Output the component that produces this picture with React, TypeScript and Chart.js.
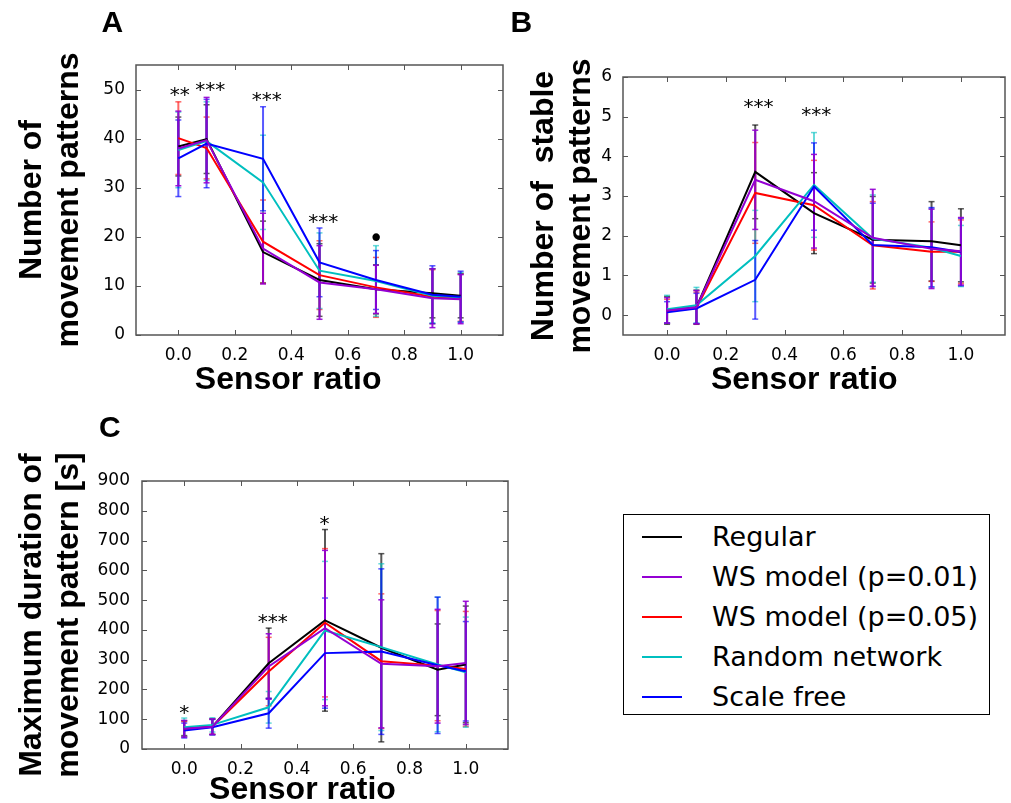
import React, { useEffect, useRef } from 'react';
import { Chart, registerables } from 'chart.js';

Chart.register(...registerables);

// ---------- data ----------
const sensorRatios = [0.0, 0.1, 0.3, 0.5, 0.7, 0.9, 1.0];
const xTicks = [0, 0.2, 0.4, 0.6, 0.8, 1.0];

const seriesNames = ['Regular', 'WS model (p=0.01)', 'WS model (p=0.05)', 'Random network', 'Scale free'];
const seriesColors = ['#000000', '#9400d3', '#ff0000', '#00bfbf', '#0000ff'];
const errorAlpha = [0.65, 0.9, 0.6, 0.6, 0.65];

// Panel A: number of movement patterns (mean, sd)
const aRegular = [38.4, 39.9, 16.9, 11.2, 9.3, 8.5, 8.0];
const aRegularSd = [6.0, 7.0, 6.3, 7.4, 5.0, 5.0, 4.5];
const aWs01 = [38.0, 39.7, 17.6, 10.7, 9.3, 7.5, 7.3];
const aWs01Sd = [7.6, 8.7, 7.2, 7.5, 4.9, 6.0, 5.0];
const aWs05 = [40.1, 38.1, 19.0, 12.2, 9.7, 7.8, 7.6];
const aWs05Sd = [7.4, 6.3, 8.5, 7.0, 6.1, 5.5, 4.8];
const aRandom = [37.7, 39.5, 31.1, 13.1, 11.0, 8.0, 7.7];
const aRandomSd = [7.7, 8.0, 9.6, 7.7, 7.2, 5.5, 5.0];
const aScaleFree = [36.0, 39.0, 35.9, 14.8, 11.2, 8.2, 7.8];
const aScaleFreeSd = [7.8, 9.0, 10.6, 7.0, 6.0, 5.9, 5.2];
const aStarX = [0.005, 0.113, 0.313, 0.513, 0.70];
const aStarY = [49.6, 50.6, 48.6, 23.8, 19.9];
const aStarText = ['**', '***', '***', '***', '•'];
const aYTicks = [0, 10, 20, 30, 40, 50];

// Panel B: number of stable movement patterns
const bRegular = [0.12, 0.20, 3.61, 2.57, 1.90, 1.86, 1.76];
const bRegularSd = [0.35, 0.43, 1.18, 1.02, 1.09, 1.00, 0.92];
const bWs01 = [0.12, 0.20, 3.41, 2.87, 1.95, 1.67, 1.61];
const bWs01Sd = [0.32, 0.42, 1.25, 1.18, 1.22, 1.00, 0.85];
const bWs05 = [0.10, 0.18, 3.08, 2.77, 1.76, 1.60, 1.60];
const bWs05Sd = [0.30, 0.40, 1.27, 1.13, 1.10, 0.75, 0.80];
const bRandom = [0.15, 0.25, 1.49, 3.28, 1.93, 1.70, 1.49];
const bRandomSd = [0.35, 0.45, 1.15, 1.32, 1.10, 0.99, 0.77];
const bScaleFree = [0.07, 0.17, 0.89, 3.24, 1.77, 1.71, 1.59];
const bScaleFreeSd = [0.27, 0.38, 0.99, 1.10, 1.05, 1.00, 0.85];
const bStarX = [0.311, 0.508];
const bStarY = [5.33, 5.12];
const bStarText = ['***', '***'];
const bYTicks = [0, 1, 2, 3, 4, 5, 6];

// Panel C: maximum duration of movement pattern [s]
const cRegular = [70, 75, 288, 432, 340, 266, 284];
const cRegularSd = [25, 26, 118, 305, 316, 154, 196];
const cWs01 = [68, 75, 277, 406, 286, 278, 289];
const cWs01Sd = [28, 26, 110, 261, 215, 191, 207];
const cWs05 = [67, 75, 260, 424, 295, 280, 269];
const cWs05Sd = [25, 26, 115, 249, 226, 185, 193];
const cRandom = [73, 81, 140, 398, 342, 284, 258];
const cRandomSd = [31, 24, 53, 232, 280, 226, 185];
const cScaleFree = [62, 73, 120, 322, 327, 281, 261];
const cScaleFreeSd = [25, 26, 50, 185, 278, 229, 167];
const cStarX = [0.0, 0.314, 0.498];
const cStarY = [134, 437, 766];
const cStarText = ['*', '***', '*'];
const cYTicks = [0, 100, 200, 300, 400, 500, 600, 700, 800, 900];

// ---------- helpers ----------
const lineOrder = [4, 0, 3, 2, 1];

function rgba(hex: string, a: number) {
  const n = parseInt(hex.slice(1), 16);
  return `rgba(${(n >> 16) & 255},${(n >> 8) & 255},${n & 255},${a})`;
}

function inkText(ctx: CanvasRenderingContext2D, text: string, x: number, y: number) {
  ctx.textAlign = 'center';
  ctx.textBaseline = 'alphabetic';
  const m = ctx.measureText(text);
  const dx = (m.actualBoundingBoxRight - m.actualBoundingBoxLeft) / 2;
  const dy = (m.actualBoundingBoxAscent - m.actualBoundingBoxDescent) / 2;
  ctx.fillText(text, x - dx, y + dy);
}

type PanelCfg = {
  means: number[][];
  sds: number[][];
  yMin: number;
  yMax: number;
  yTicks: number[];
  yTitle: string[];
  yTitlePad: number;
  yAxisWidth: number;
  yTickPad: number;
  padTop: number;
  padRight: number;
  xAxisHeight: number;
  starX: number[];
  starY: number[];
  starText: string[];
  xTitleAt: number;
  xTitleY: number;
  letter: string;
  letterX: number;
  letterY: number;
};

function makeConfig(p: PanelCfg): any {
  const lineSets = p.means.map((m, i) => ({
    label: seriesNames[i],
    data: sensorRatios.map((x, j) => ({ x, y: m[j] })),
    borderColor: seriesColors[i],
    backgroundColor: seriesColors[i],
    borderWidth: 2,
    pointRadius: 0,
    tension: 0,
    fill: false,
    order: lineOrder[i],
  }));
  const errSets = p.means.map((m, i) => ({
    label: seriesNames[i] + ' sd',
    data: sensorRatios.flatMap((x, j) => [
      { x, y: m[j] - p.sds[i][j] },
      { x, y: m[j] + p.sds[i][j] },
      { x, y: null },
    ]),
    borderColor: rgba(seriesColors[i], errorAlpha[i]),
    backgroundColor: rgba(seriesColors[i], errorAlpha[i]),
    borderWidth: 2,
    pointStyle: 'line',
    pointRadius: 3,
    pointBorderWidth: 1.5,
    pointBorderColor: rgba(seriesColors[i], errorAlpha[i]),
    spanGaps: false,
    fill: false,
    order: lineOrder[i] + 5,
  }));

  const tickFont = { family: 'DejaVu Sans', size: 17 };

  const plugin = {
    id: 'mpl',
    afterDraw(chart: any) {
      const ctx: CanvasRenderingContext2D = chart.ctx;
      const { left, right, top, bottom } = chart.chartArea;
      const xs = chart.scales.x;
      const ys = chart.scales.y;
      ctx.save();
      ctx.strokeStyle = '#555555';
      ctx.lineWidth = 1.5;
      ctx.strokeRect(left, top, right - left, bottom - top);
      ctx.lineWidth = 1;
      const L = 5;
      ctx.beginPath();
      xs.ticks.forEach((t: any) => {
        const px = Math.round(xs.getPixelForValue(t.value)) + 0.5;
        ctx.moveTo(px, bottom);
        ctx.lineTo(px, bottom - L);
        ctx.moveTo(px, top);
        ctx.lineTo(px, top + L);
      });
      ys.ticks.forEach((t: any) => {
        const py = Math.round(ys.getPixelForValue(t.value)) + 0.5;
        ctx.moveTo(left, py);
        ctx.lineTo(left + L, py);
        ctx.moveTo(right, py);
        ctx.lineTo(right - L, py);
      });
      ctx.stroke();

      ctx.fillStyle = '#000';
      p.starX.forEach((sx, i) => {
        const t = p.starText[i];
        ctx.font = t === '•' ? '26px "DejaVu Sans"' : '20px "DejaVu Sans"';
        inkText(ctx, t, xs.getPixelForValue(sx), ys.getPixelForValue(p.starY[i]));
      });

      ctx.font = 'bold 32px "Liberation Sans"';
      inkText(ctx, 'Sensor ratio', xs.getPixelForValue(p.xTitleAt), p.xTitleY);

      ctx.font = 'bold 30px "Liberation Sans"';
      inkText(ctx, p.letter, p.letterX, p.letterY);
      ctx.restore();
    },
  };

  return {
    type: 'line',
    data: { datasets: [...lineSets, ...errSets] },
    plugins: [plugin],
    options: {
      responsive: false,
      maintainAspectRatio: false,
      animation: false,
      events: [],
      layout: { padding: { left: 0, top: p.padTop, right: p.padRight, bottom: 0 } },
      plugins: { legend: { display: false }, tooltip: { enabled: false } },
      scales: {
        x: {
          type: 'linear',
          min: -0.15,
          max: 1.15,
          afterBuildTicks: (s: any) => {
            s.ticks = xTicks.map((v) => ({ value: v }));
          },
          afterFit: (s: any) => {
            s.height = p.xAxisHeight;
          },
          grid: { display: false },
          border: { display: false },
          ticks: {
            font: tickFont,
            color: '#000',
            padding: 2,
            maxRotation: 0,
            autoSkip: false,
            callback: (v: any) => Number(v).toFixed(1),
          },
        },
        y: {
          type: 'linear',
          min: p.yMin,
          max: p.yMax,
          afterBuildTicks: (s: any) => {
            s.ticks = p.yTicks.map((v) => ({ value: v }));
          },
          afterFit: (s: any) => {
            s.width = p.yAxisWidth;
          },
          grid: { display: false },
          border: { display: false },
          ticks: {
            font: tickFont,
            color: '#000',
            padding: p.yTickPad,
            autoSkip: false,
            callback: (v: any) => String(v),
          },
          title: {
            display: true,
            text: p.yTitle,
            color: '#000',
            font: { family: 'Liberation Sans', size: 32, weight: 'bold', lineHeight: 1.16 },
            padding: { top: p.yTitlePad, bottom: 0 },
          },
        },
      },
    },
  };
}

const panelA: PanelCfg = {
  means: [aRegular, aWs01, aWs05, aRandom, aScaleFree],
  sds: [aRegularSd, aWs01Sd, aWs05Sd, aRandomSd, aScaleFreeSd],
  yMin: 0,
  yMax: 55,
  yTicks: aYTicks,
  yTitle: ['Number of', 'movement patterns'],
  yTitlePad: 13.5,
  yAxisWidth: 136,
  yTickPad: 3,
  padTop: 65,
  padRight: 12,
  xAxisHeight: 65,
  starX: aStarX,
  starY: aStarY,
  starText: aStarText,
  xTitleAt: 0.388,
  xTitleY: 377,
  letter: 'A',
  letterX: 112,
  letterY: 22,
};

const panelB: PanelCfg = {
  means: [bRegular, bWs01, bWs05, bRandom, bScaleFree],
  sds: [bRegularSd, bWs01Sd, bWs05Sd, bRandomSd, bScaleFreeSd],
  yMin: -0.5,
  yMax: 6,
  yTicks: bYTicks,
  yTitle: ['Number of  stable', 'movement patterns'],
  yTitlePad: 35.5,
  yAxisWidth: 133,
  yTickPad: 3,
  padTop: 77,
  padRight: 6,
  xAxisHeight: 65,
  starX: bStarX,
  starY: bStarY,
  starText: bStarText,
  xTitleAt: 0.466,
  xTitleY: 377,
  letter: 'B',
  letterX: 32,
  letterY: 22,
};

const panelC: PanelCfg = {
  means: [cRegular, cWs01, cWs05, cRandom, cScaleFree],
  sds: [cRegularSd, cWs01Sd, cWs05Sd, cRandomSd, cScaleFreeSd],
  yMin: 0,
  yMax: 900,
  yTicks: cYTicks,
  yTitle: ['Maximum duration of', 'movement pattern [s]'],
  yTitlePad: 13.5,
  yAxisWidth: 142,
  yTickPad: 4,
  padTop: 81,
  padRight: 12,
  xAxisHeight: 54,
  starX: cStarX,
  starY: cStarY,
  starText: cStarText,
  xTitleAt: 0.419,
  xTitleY: 387,
  letter: 'C',
  letterX: 110,
  letterY: 27,
};

function Panel({ cfg, left, top, width, height }: { cfg: PanelCfg; left: number; top: number; width: number; height: number }) {
  const ref = useRef<HTMLCanvasElement>(null);
  useEffect(() => {
    const chart = new Chart(ref.current as HTMLCanvasElement, makeConfig(cfg));
    return () => chart.destroy();
  }, [cfg]);
  return (
    <canvas
      ref={ref}
      width={width}
      height={height}
      style={{ position: 'absolute', left, top, width, height }}
    />
  );
}

function Legend() {
  return (
    <div
      style={{
        position: 'absolute',
        left: 623,
        top: 514,
        width: 367,
        height: 201,
        border: '1.5px solid #000',
        boxSizing: 'border-box',
        fontFamily: '"DejaVu Sans"',
        fontSize: 27,
        color: '#000',
        background: '#fff',
      }}
    >
      {seriesNames.map((n, i) => (
        <div key={n}>
          <div
            style={{
              position: 'absolute',
              left: 18,
              top: 21 + 40 * i,
              width: 40,
              height: 2,
              background: seriesColors[i],
            }}
          />
          <div
            style={{
              position: 'absolute',
              left: 88,
              top: 2 + 40 * i,
              height: 40,
              lineHeight: '40px',
              whiteSpace: 'nowrap',
            }}
          >
            {n}
          </div>
        </div>
      ))}
    </div>
  );
}

export default function App() {
  return (
    <div
      style={{
        position: 'absolute',
        left: 0,
        top: 0,
        width: 1011,
        height: 803,
        overflow: 'hidden',
        background: '#fff',
      }}
    >
      <Panel cfg={panelA} left={0} top={0} width={515} height={400} />
      <Panel cfg={panelB} left={490} top={0} width={521} height={400} />
      <Panel cfg={panelC} left={0} top={400} width={520} height={403} />
      <Legend />
    </div>
  );
}
